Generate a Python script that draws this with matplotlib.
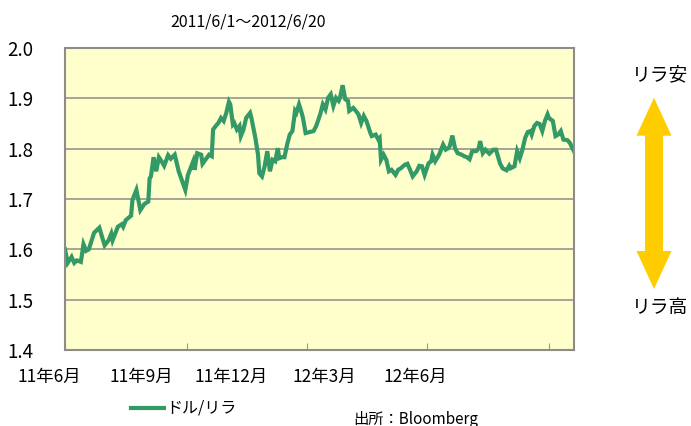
import numpy as np
import matplotlib
matplotlib.use("Agg")
import matplotlib.pyplot as plt
from matplotlib.patches import Polygon

plt.rcParams['font.family'] = ['Noto Sans CJK JP', 'DejaVu Sans']

# days after 2011/6/1 and USD/TRY rate
days = [0, 2, 5, 7, 9, 12, 14, 16, 18, 22, 26, 28, 30, 33, 35, 36, 40, 43, 44, 46,
        50, 51, 54, 57, 60, 63, 64, 65, 67, 69, 71, 73, 75, 78, 80, 83, 86, 91, 93, 97,
        98, 100, 103, 104, 107, 109, 111, 112, 114, 116, 118, 120, 122, 124, 125, 127, 128, 130, 132, 133,
        135, 137, 140, 141, 144, 146, 147, 149, 151, 153, 155, 157, 159, 161, 162, 164, 166, 168, 170, 172,
        174, 175, 177, 179, 180, 182, 185, 188, 190, 193, 195, 197, 199, 201, 203, 205, 207, 208, 210, 212,
        214, 215, 218, 220, 222, 224, 226, 228, 231, 232, 235, 237, 238, 239, 241, 243, 245, 247, 250, 252,
        254, 257, 259, 261, 263, 266, 268, 270, 272, 275, 277, 278, 280, 283, 286, 288, 290, 291, 293, 295,
        297, 300, 302, 304, 306, 308, 311, 313, 314, 316, 318, 321, 324, 326, 329, 331, 334, 336, 337, 340,
        342, 344, 346, 348, 350, 352, 353, 355, 357, 359, 361, 363, 365, 366, 369, 371, 373, 375, 377, 380,
        382, 383, 385]
rate = [1.600, 1.573, 1.585, 1.573, 1.578, 1.575, 1.610, 1.597, 1.600, 1.633, 1.643, 1.625, 1.608, 1.618, 1.631, 1.618, 1.645, 1.650, 1.645, 1.658,
        1.667, 1.698, 1.718, 1.678, 1.690, 1.695, 1.741, 1.745, 1.783, 1.755, 1.783, 1.775, 1.766, 1.787, 1.780, 1.788, 1.755, 1.718, 1.748, 1.775,
        1.758, 1.791, 1.788, 1.770, 1.781, 1.788, 1.785, 1.838, 1.845, 1.851, 1.861, 1.855, 1.871, 1.893, 1.888, 1.848, 1.851, 1.838, 1.845, 1.825,
        1.838, 1.861, 1.871, 1.861, 1.821, 1.788, 1.751, 1.745, 1.765, 1.795, 1.755, 1.778, 1.775, 1.801, 1.781, 1.783, 1.783, 1.808, 1.828, 1.835,
        1.875, 1.871, 1.888, 1.871, 1.861, 1.831, 1.833, 1.835, 1.845, 1.868, 1.888, 1.878, 1.901, 1.908, 1.885, 1.901, 1.895, 1.901, 1.926, 1.898,
        1.895, 1.875, 1.881, 1.875, 1.868, 1.851, 1.865, 1.855, 1.831, 1.825, 1.828, 1.818, 1.821, 1.778, 1.788, 1.778, 1.755, 1.758, 1.748, 1.758,
        1.761, 1.768, 1.770, 1.758, 1.745, 1.755, 1.766, 1.765, 1.748, 1.771, 1.775, 1.788, 1.775, 1.788, 1.808, 1.798, 1.801, 1.805, 1.826, 1.801,
        1.791, 1.788, 1.785, 1.783, 1.779, 1.795, 1.795, 1.801, 1.815, 1.791, 1.798, 1.790, 1.798, 1.798, 1.771, 1.761, 1.757, 1.766, 1.761, 1.765,
        1.795, 1.781, 1.798, 1.821, 1.833, 1.835, 1.828, 1.845, 1.851, 1.849, 1.835, 1.855, 1.868, 1.861, 1.855, 1.825, 1.828, 1.835, 1.818, 1.817,
        1.811, 1.805, 1.795]

start = np.datetime64('2011-06-01')
end = np.datetime64('2012-06-20')
month_ticks = np.array(['2011-06-01', '2011-09-01', '2011-12-01', '2012-03-01', '2012-06-01'], dtype='datetime64[D]')
xlabels = ['11年6月', '11年9月', '11年12月', '12年3月', '12年6月']
yticks = [1.4, 1.5, 1.6, 1.7, 1.8, 1.9, 2.0]

dates = start + np.array(days)

W, H = 691, 426
fig = plt.figure(figsize=(W / 100, H / 100), dpi=100)
ax = fig.add_axes([65 / W, 1 - 350 / H, (574 - 65) / W, (350 - 48) / H])
ax.set_facecolor('#FFFFCC')

ax.plot(dates, rate, color='#339966', lw=3, solid_joinstyle='miter', label='ドル/リラ')

ax.set_xlim(start, end)
ax.set_ylim(1.4, 2.0)
ax.set_yticks(yticks)
ax.set_yticklabels([f'{v:.1f}' for v in yticks], fontsize=13.5)
ax.tick_params(axis='y', length=0, pad=23)
ax.set_xticks(month_ticks)
ax.set_xticklabels([])
ax.tick_params(axis='x', direction='in', length=5, color='#999999')
ax.grid(axis='y', color='#8c8c8c', lw=1.1)
ax.set_axisbelow(True)
for s in ax.spines.values():
    s.set_color('#8c8c8c')
    s.set_linewidth(1.5)

# month labels (placed as in the original, not under the ticks)
for xp, lab in zip([49, 141, 231, 324, 415], xlabels):
    fig.text(xp / W, 1 - 377 / H, lab, ha='center', va='center', fontsize=12.5)

fig.text(248 / W, 1 - 22 / H, '2011/6/1～2012/6/20', ha='center', va='center', fontsize=11.5)

# legend
fig.add_artist(plt.Line2D([131 / W, 164 / W], [1 - 408 / H] * 2, color='#339966', lw=3))
fig.text(166 / W, 1 - 408 / H, 'ドル/リラ', ha='left', va='center', fontsize=11.5)
fig.text(353 / W, 1 - 419 / H, '出所：Bloomberg', ha='left', va='center', fontsize=11)

# yellow double arrow
cx, top, bot = 654, 97.7, 289
hw, hl, sw = 17.5, 38, 9
pts = [(cx, top), (cx + hw, top + hl), (cx + sw, top + hl), (cx + sw, bot - hl), (cx + hw, bot - hl),
       (cx, bot), (cx - hw, bot - hl), (cx - sw, bot - hl), (cx - sw, top + hl), (cx - hw, top + hl)]
fig.add_artist(Polygon([(x / W, 1 - y / H) for x, y in pts], closed=True,
                       transform=fig.transFigure, facecolor='#FFCC00', edgecolor='none'))
fig.text(660 / W, 1 - 75 / H, 'リラ安', ha='center', va='center', fontsize=13.5)
fig.text(660 / W, 1 - 308 / H, 'リラ高', ha='center', va='center', fontsize=13.5)

fig.savefig('out.png', dpi=100, facecolor='white')
